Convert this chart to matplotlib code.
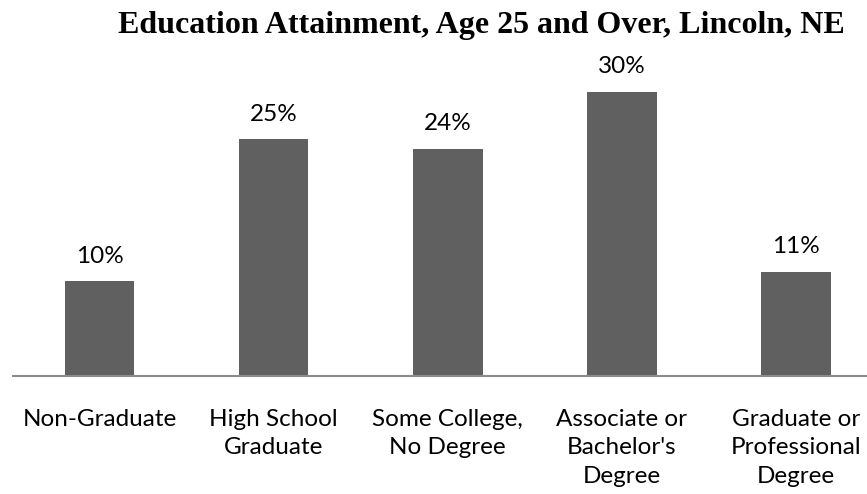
import matplotlib
matplotlib.use("Agg")
import matplotlib.pyplot as plt

categories = ["Non-Graduate", "High School\nGraduate", "Some College,\nNo Degree",
              "Associate or\nBachelor's\nDegree", "Graduate or\nProfessional\nDegree"]
values = [10, 25, 24, 30, 11]
value_labels = ["10%", "25%", "24%", "30%", "11%"]

W, H = 867, 494
fig = plt.figure(figsize=(W / 100, H / 100), dpi=100)

# axes spans a bit past the right edge, like the original
left_px, right_px = 12.5, 883
bottom_px, top_px = 376, 60
ax = fig.add_axes([left_px / W, 1 - bottom_px / H, (right_px - left_px) / W, (bottom_px - top_px) / H])

x = range(len(categories))
ax.bar(x, values, width=0.4, color="#606060")
ax.set_xlim(-0.5, len(categories) - 0.5)
ax.set_ylim(0, (bottom_px - top_px) / 9.47)

for xi, v, lab in zip(x, values, value_labels):
    ax.annotate(lab, (xi, v), xytext=(0, 18), textcoords="offset points",
                ha="center", va="center", fontsize=17.5, family="Lato", color="#000000")

for s in ["top", "left", "right"]:
    ax.spines[s].set_visible(False)
ax.spines["bottom"].set_color("#8c8c8c")
ax.spines["bottom"].set_linewidth(1.5)
ax.set_yticks([])
ax.set_xticks(list(x))
ax.set_xticklabels(categories, fontsize=17.5, family="Lato", linespacing=1.44, va="top")
ax.tick_params(axis="x", length=0, pad=23.5)

fig.text(481 / W, 1 - 25 / H, "Education Attainment, Age 25 and Over, Lincoln, NE",
         ha="center", va="center", fontsize=23, fontweight="bold", family="Liberation Serif")

fig.savefig("out.png", dpi=100)
